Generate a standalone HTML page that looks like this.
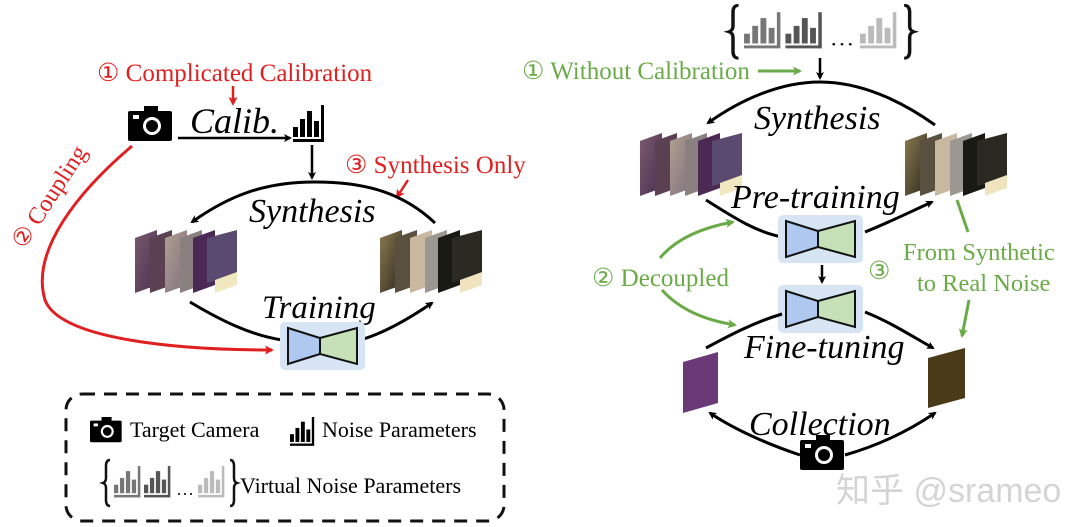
<!DOCTYPE html>
<html><head><meta charset="utf-8"><style>
html,body{margin:0;padding:0;background:#fff;}
svg{display:block;font-family:"Liberation Serif",serif;}
</style></head><body>
<svg width="1080" height="527" viewBox="0 0 1080 527" xmlns="http://www.w3.org/2000/svg">
<defs>
<marker id="ab" markerWidth="8" markerHeight="8" refX="6" refY="4" orient="auto" markerUnits="userSpaceOnUse" viewBox="0 0 8 8"><path d="M0,0 L8,4 L0,8 L2,4z" fill="#000"/></marker>
<marker id="ar" markerWidth="9" markerHeight="9" refX="7" refY="4.5" orient="auto" markerUnits="userSpaceOnUse" viewBox="0 0 9 9"><path d="M0,0 L9,4.5 L0,9 L2,4.5z" fill="#e02020"/></marker>
<marker id="ag" markerWidth="9" markerHeight="9" refX="7" refY="4.5" orient="auto" markerUnits="userSpaceOnUse" viewBox="0 0 9 9"><path d="M0,0 L9,4.5 L0,9 L2,4.5z" fill="#6aab48"/></marker>
<g id="cam"><rect x="0" y="5" width="44" height="30" rx="2" fill="#000"/><rect x="16" y="0" width="14" height="7" fill="#000"/><circle cx="24" cy="20" r="9" fill="#fff"/><circle cx="24" cy="20" r="6" fill="#000"/><rect x="5" y="9" width="6" height="4" fill="#fff"/></g>
<g id="bars"><rect x="0" y="22" width="5" height="10"/><rect x="7" y="14" width="5" height="18"/><rect x="14" y="6" width="5" height="26"/><rect x="21" y="16" width="5" height="16"/><rect x="28" y="0" width="3" height="35"/><rect x="0" y="34" width="31" height="3"/></g>
<linearGradient id="ip" x1="0" y1="0" x2="1" y2="1"><stop offset="0" stop-color="#7a5a6e"/><stop offset="1" stop-color="#4a3050"/></linearGradient>
<linearGradient id="ip2" x1="0" y1="0" x2="1" y2="1"><stop offset="0" stop-color="#b0a090"/><stop offset="1" stop-color="#807080"/></linearGradient>
<linearGradient id="id" x1="0" y1="0" x2="1" y2="1"><stop offset="0" stop-color="#8a7a50"/><stop offset="1" stop-color="#302a20"/></linearGradient>
<g id="stackP">
<path d="M0,8 L22,0 L22,55 L0,63z" fill="url(#ip)"/>
<path d="M15,8 L37,0 L37,55 L15,63z" fill="#5a4050"/>
<path d="M30,8 L52,0 L52,55 L30,63z" fill="url(#ip2)"/>
<path d="M45,8 L67,0 L67,55 L45,63z" fill="#8a8080"/>
<path d="M58,8 L80,0 L80,55 L58,63z" fill="#4a2a55"/>
<path d="M72,8 L102,0 L102,45 L72,53z" fill="#5a4a70"/>
<path d="M80,50 L102,42 L102,55 L80,63z" fill="#f2e8c0"/>
</g>
<g id="stackD">
<path d="M0,8 L22,0 L22,55 L0,63z" fill="url(#id)"/>
<path d="M15,8 L37,0 L37,55 L15,63z" fill="#5a5040"/>
<path d="M30,8 L52,0 L52,55 L30,63z" fill="#c8b8a0"/>
<path d="M45,8 L67,0 L67,55 L45,63z" fill="#9a9890"/>
<path d="M58,8 L80,0 L80,55 L58,63z" fill="#1a1a14"/>
<path d="M72,8 L102,0 L102,45 L72,53z" fill="#2a2a22"/>
<path d="M80,50 L102,42 L102,55 L80,63z" fill="#f0e4c0"/>
</g>
<g id="net"><rect x="0" y="0" width="85" height="48" rx="5" fill="#d6e4f4"/><path d="M8,6 L40,16 L40,32 L8,42z" fill="#afc8f0" stroke="#111" stroke-width="2"/><path d="M40,16 L77,6 L77,42 L40,32z" fill="#c6e0b8" stroke="#111" stroke-width="2"/></g>
<g id="vbars">
<path d="M4,2 Q0,2 0,8 L0,20 Q0,24 -3,25 Q0,26 0,30 L0,42 Q0,48 4,48" fill="none" stroke="#111" stroke-width="2.5"/>
<g transform="translate(8,8) scale(0.85)" fill="#777"><use href="#bars"/></g>
<g transform="translate(38,8) scale(0.85)" fill="#555"><use href="#bars"/></g>
<text x="70" y="42" font-size="18" fill="#111">···</text>
<g transform="translate(92,8) scale(0.85)" fill="#bbb"><use href="#bars"/></g>
<path d="M124,2 Q128,2 128,8 L128,20 Q128,24 131,25 Q128,26 128,30 L128,42 Q128,48 124,48" fill="none" stroke="#111" stroke-width="2.5"/>
</g>
</defs>

<!-- LEFT -->
<text x="97" y="81" font-size="25" fill="#e02020">① Complicated Calibration</text>
<line x1="233" y1="86" x2="233" y2="104" stroke="#e02020" stroke-width="2.5" marker-end="url(#ar)"/>
<use href="#cam" x="128" y="106"/>
<text x="190" y="133" font-size="36" font-style="italic">Calib.</text>
<line x1="178" y1="138" x2="290" y2="138" stroke="#000" stroke-width="2.5" marker-end="url(#ab)"/>
<use href="#bars" x="293" y="105"/>
<line x1="312" y1="145" x2="312" y2="178" stroke="#000" stroke-width="2.5" marker-end="url(#ab)"/>
<text x="345" y="173" font-size="25" fill="#e02020">③ Synthesis Only</text>
<line x1="408" y1="180" x2="397" y2="197" stroke="#e02020" stroke-width="2.5" marker-end="url(#ar)"/>
<path d="M435,223 C400,190 360,182 315,182 C265,182 230,195 192,222" fill="none" stroke="#000" stroke-width="3" marker-end="url(#ab)"/>
<text x="249" y="222" font-size="34" font-style="italic">Synthesis</text>
<use href="#stackP" x="135" y="230"/>
<use href="#stackD" x="380" y="230"/>
<text x="262" y="318" font-size="33" font-style="italic">Training</text>
<path d="M190,302 C220,320 250,335 282,340" fill="none" stroke="#000" stroke-width="3"/>
<path d="M360,340 C385,333 410,318 432,303" fill="none" stroke="#000" stroke-width="3" marker-end="url(#ab)"/>
<use href="#net" x="280" y="322"/>
<path d="M132,146 C80,190 30,250 45,300 C60,340 180,350 272,350" fill="none" stroke="#e02020" stroke-width="3" marker-end="url(#ar)"/>
<text transform="translate(24,250) rotate(-57)" font-size="24" fill="#e02020">② Coupling</text>

<rect x="66" y="394" width="438" height="127" rx="16" fill="none" stroke="#111" stroke-width="3" stroke-dasharray="13,9"/>
<g transform="translate(90,417) scale(0.72)"><use href="#cam"/></g>
<text x="130" y="437" font-size="22">Target Camera</text>
<g transform="translate(290,417) scale(0.78)"><use href="#bars"/></g>
<text x="322" y="437" font-size="22">Noise Parameters</text>
<use href="#vbars" x="106" y="458"/>
<text x="240" y="493" font-size="22">Virtual Noise Parameters</text>

<!-- RIGHT -->
<g transform="translate(733,3) scale(1.38,1.15)"><use href="#vbars"/></g>
<text x="522" y="79" font-size="25" fill="#6aab48">① Without Calibration</text>
<line x1="758" y1="71" x2="800" y2="71" stroke="#6aab48" stroke-width="3" marker-end="url(#ag)"/>
<line x1="820" y1="58" x2="820" y2="78" stroke="#000" stroke-width="2.5" marker-end="url(#ab)"/>
<path d="M935,125 C900,100 860,82 820,82 C780,82 740,100 708,123" fill="none" stroke="#000" stroke-width="3" marker-end="url(#ab)"/>
<text x="754" y="129" font-size="34" font-style="italic">Synthesis</text>
<use href="#stackP" x="640" y="133"/>
<use href="#stackD" x="905" y="133"/>
<text x="731" y="208" font-size="34" font-style="italic">Pre-training</text>
<path d="M706,200 C730,215 755,232 782,237" fill="none" stroke="#000" stroke-width="3"/>
<path d="M865,232 C890,222 910,212 932,202" fill="none" stroke="#000" stroke-width="3" marker-end="url(#ab)"/>
<use href="#net" x="778" y="215"/>
<line x1="822" y1="265" x2="822" y2="282" stroke="#000" stroke-width="2.5" marker-end="url(#ab)"/>
<use href="#net" x="778" y="285"/>
<path d="M706,348 C730,335 755,322 782,314" fill="none" stroke="#000" stroke-width="3"/>
<path d="M865,312 C890,322 910,335 933,348" fill="none" stroke="#000" stroke-width="3" marker-end="url(#ab)"/>
<text x="744" y="358" font-size="34" font-style="italic">Fine-tuning</text>
<path d="M683,362 L718,352 L718,403 L683,413z" fill="#6a3a78"/>
<path d="M928,358 L965,348 L965,398 L928,408z" fill="#4a3a18"/>
<text x="749" y="435" font-size="34" font-style="italic">Collection</text>
<path d="M800,455 C770,445 735,430 710,413" fill="none" stroke="#000" stroke-width="3" marker-end="url(#ab)"/>
<path d="M845,455 C880,445 910,430 935,413" fill="none" stroke="#000" stroke-width="3" marker-end="url(#ab)"/>
<use href="#cam" x="800" y="435"/>
<text x="836" y="502" font-size="34" fill="#d4d4d4" font-family="Liberation Sans, Noto Sans CJK SC, sans-serif">知乎 @srameo</text>
<text x="592" y="286" font-size="25" fill="#6aab48">② Decoupled</text>
<path d="M660,258 C675,240 700,228 733,222" fill="none" stroke="#6aab48" stroke-width="3" marker-end="url(#ag)"/>
<path d="M662,290 C680,310 705,320 735,325" fill="none" stroke="#6aab48" stroke-width="3" marker-end="url(#ag)"/>
<text x="868" y="279" font-size="25" fill="#6aab48">③</text>
<text x="903" y="260" font-size="24.5" fill="#6aab48">From Synthetic</text>
<text x="917" y="291" font-size="24.5" fill="#6aab48">to Real Noise</text>
<line x1="957" y1="200" x2="968" y2="232" stroke="#6aab48" stroke-width="3"/>
<line x1="969" y1="300" x2="962" y2="336" stroke="#6aab48" stroke-width="3" marker-end="url(#ag)"/>
</svg>
</body></html>
